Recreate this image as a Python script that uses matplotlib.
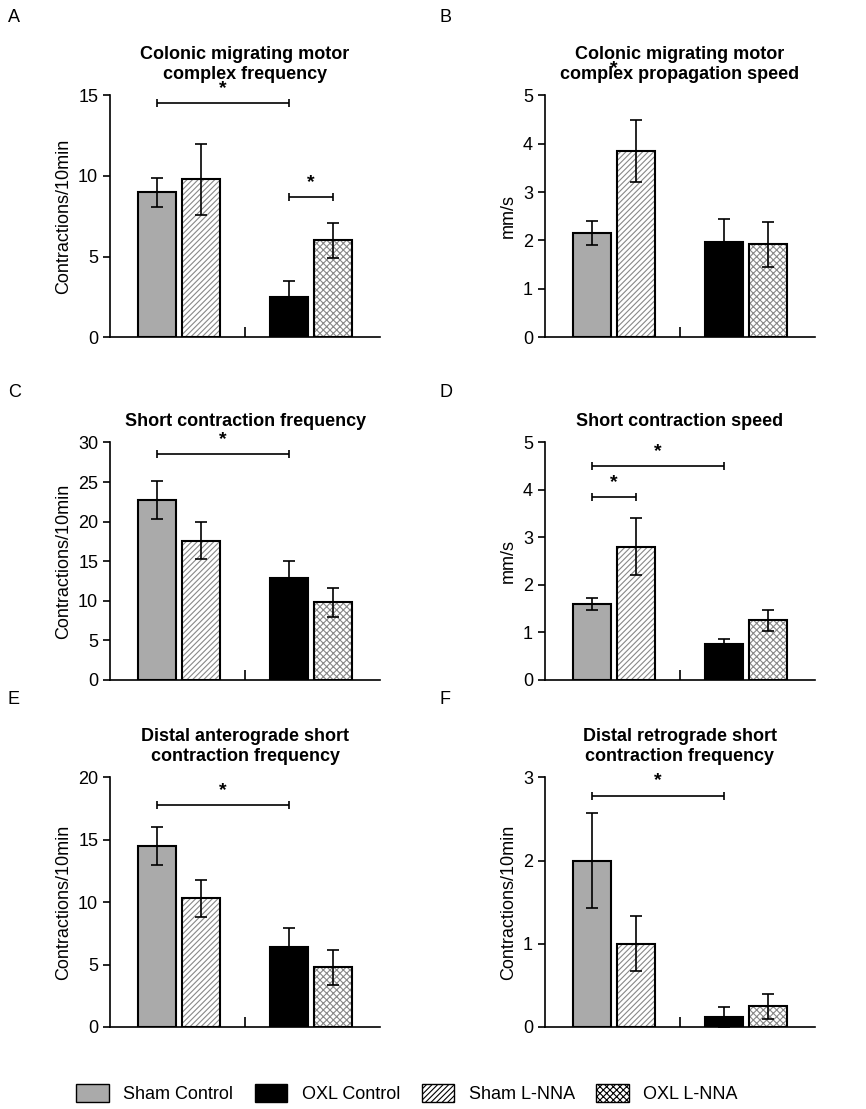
import matplotlib.pyplot as plt
from matplotlib.patches import Patch

plt.rcParams['font.family'] = ['Arial', 'Liberation Sans', 'DejaVu Sans']
plt.rcParams['hatch.linewidth'] = 0.8

groups = ['Sham Control', 'Sham L-NNA', 'OXL Control', 'OXL L-NNA']

titles = ['Colonic migrating motor\ncomplex frequency',
          'Colonic migrating motor\ncomplex propagation speed',
          'Short contraction frequency',
          'Short contraction speed',
          'Distal anterograde short\ncontraction frequency',
          'Distal retrograde short\ncontraction frequency']
letters = ['A', 'B', 'C', 'D', 'E', 'F']
ylabels = ['Contractions/10min', 'mm/s', 'Contractions/10min', 'mm/s',
           'Contractions/10min', 'Contractions/10min']
ymax = [15, 5, 30, 5, 20, 3]
ystep = [5, 1, 5, 1, 5, 1]

means = [[9.0, 9.8, 2.5, 6.0],
         [2.15, 3.85, 1.97, 1.92],
         [22.7, 17.6, 12.9, 9.8],
         [1.6, 2.8, 0.75, 1.25],
         [14.5, 10.3, 6.4, 4.8],
         [2.0, 1.0, 0.12, 0.25]]
errs = [[0.9, 2.2, 1.0, 1.1],
        [0.25, 0.65, 0.47, 0.47],
        [2.4, 2.3, 2.1, 1.8],
        [0.13, 0.6, 0.1, 0.22],
        [1.5, 1.5, 1.5, 1.4],
        [0.57, 0.33, 0.12, 0.15]]
# significance brackets: (bar index i, bar index j, height)
sigs = [[(0, 2, 14.5), (2, 3, 8.7)],
        [(0, 1, 5.25)],
        [(0, 2, 28.5)],
        [(0, 1, 3.85), (0, 2, 4.5)],
        [(0, 2, 17.8)],
        [(0, 2, 2.78)]]

xpos = [0, 1, 3, 4]
colors = ['#aaaaaa', 'white', 'black', 'white']
hatches = [None, '//////', None, 'xxxxx']

fig = plt.figure(figsize=(8.66, 11.09), dpi=100)
rows = [(0.696, 0.218), (0.387, 0.214), (0.074, 0.225)]
cols = [0.127, 0.629]

for k in range(6):
    b, h = rows[k // 2]
    ax = fig.add_axes([cols[k % 2], b, 0.312, h])
    for i in range(4):
        ax.bar(xpos[i], means[k][i], 0.85, color=colors[i], hatch=hatches[i],
               edgecolor='#888888' if hatches[i] else colors[i], linewidth=0, zorder=2)
        ax.bar(xpos[i], means[k][i], 0.85, fill=False, edgecolor='black', linewidth=1.5, zorder=3)
        ax.errorbar(xpos[i], means[k][i], yerr=errs[k][i], color='black',
                    capsize=4, elinewidth=1.2, capthick=1.2, zorder=4)
    for i, j, y in sigs[k]:
        xa, xb = xpos[i], xpos[j]
        ax.errorbar([(xa + xb) / 2], [y], xerr=[(xb - xa) / 2],
                    color='black', capsize=3, elinewidth=1.2, capthick=1.2)
        ax.text((xa + xb) / 2, y + ymax[k] * 0.025, '*', ha='center',
                va='bottom', fontsize=14, fontweight='bold')
    ax.set_xlim(-1.07, 5.07)
    ax.set_ylim(0, ymax[k])
    ax.set_yticks(range(0, ymax[k] + 1, ystep[k]))
    ax.set_xticks([2])
    ax.set_xticklabels([''])
    ax.tick_params(axis='x', direction='in', length=7, width=1.2)
    ax.tick_params(axis='y', labelsize=13, width=1.2, length=5)
    ax.spines['top'].set_visible(False)
    ax.spines['right'].set_visible(False)
    ax.spines['left'].set_linewidth(1.2)
    ax.spines['bottom'].set_linewidth(1.2)
    ax.set_ylabel(ylabels[k], fontsize=13)
    ax.set_title(titles[k], fontsize=13, fontweight='bold', pad=12)
    fig.text(0.009 if k % 2 == 0 else 0.508, b + h + (0.07 if '\n' in titles[k] else 0.045),
             letters[k], fontsize=13, va='center')

handles = [Patch(facecolor='#aaaaaa', edgecolor='black'),
           Patch(facecolor='black', edgecolor='black'),
           Patch(facecolor='white', edgecolor='black', hatch='//////'),
           Patch(facecolor='white', edgecolor='black', hatch='xxxxx')]
fig.legend(handles, ['Sham Control', 'OXL Control', 'Sham L-NNA', 'OXL L-NNA'],
           loc='center', bbox_to_anchor=(0.47, 0.014), ncol=4, frameon=False,
           fontsize=13, handlelength=1.8, handleheight=1.2, columnspacing=1.2)

fig.savefig('out.png', dpi=100)
